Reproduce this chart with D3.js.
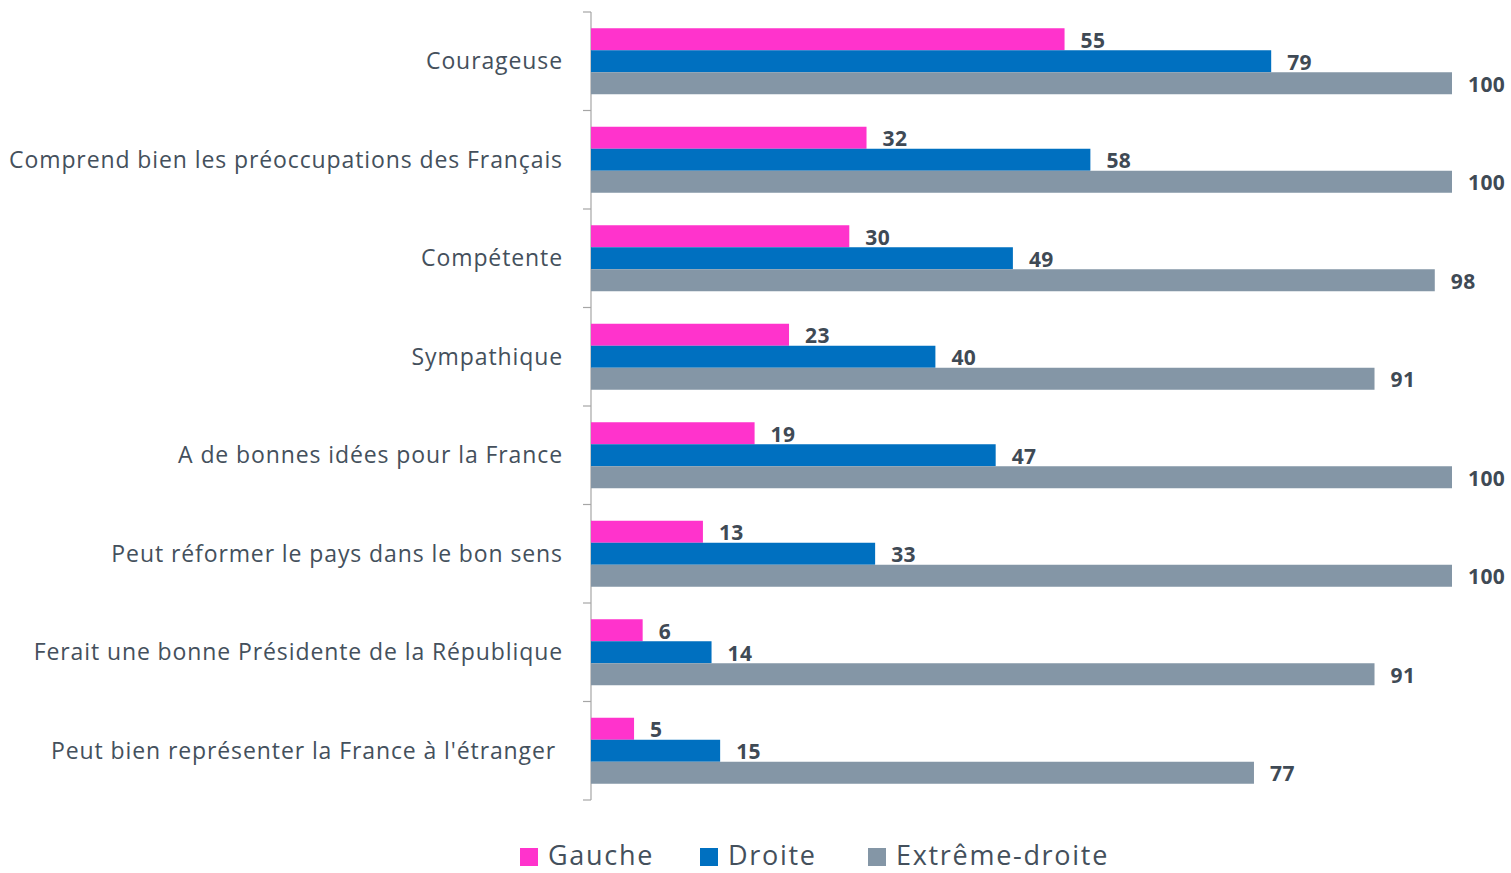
<!DOCTYPE html>
<html>
<head>
<meta charset="utf-8">
<script src="https://cdn.jsdelivr.net/npm/d3@7"></script>
<style>
  body { margin: 0; background: #fff; }
  svg text { font-family: "Open Sans", sans-serif; white-space: pre; }
</style>
</head>
<body>
<svg id="chart" width="1511" height="873"></svg>
<script>
"use strict";

// data
const categories = [
  "Courageuse",
  "Comprend bien les préoccupations des Français",
  "Compétente",
  "Sympathique",
  "A de bonnes idées pour la France",
  "Peut réformer le pays dans le bon sens",
  "Ferait une bonne Présidente de la République",
  "Peut bien représenter la France à l'étranger "
];
const seriesNames = [ "Gauche", "Droite", "Extrême-droite" ];
const gauche      = [ 55, 32, 30, 23, 19, 13, 6, 5 ];
const droite      = [ 79, 58, 49, 40, 47, 33, 14, 15 ];
const extDroite   = [ 100, 100, 98, 91, 100, 100, 91, 77 ];
const colors      = [ "#FF33CC", "#0070C0", "#8496A6" ];

const series = [ gauche, droite, extDroite ];

const margin = { top: 12, left: 591, bottom: 800 };
const svg = d3.select( "#chart" );

// scales
const x = d3.scaleLinear()
            .domain( [ 0, 100 ] )
            .range( [ margin.left, 1452 ] );
const y = d3.scaleBand()
            .domain( categories )
            .range( [ margin.top, margin.bottom ] );
const ySub = d3.scaleBand()
               .domain( d3.range( seriesNames.length ) )
               .range( [ 0, 66 ] );
const bandPad = ( y.bandwidth() - 66 ) / 2;

// axis line with ticks at category boundaries
svg.append( "line" )
   .attr( "x1", margin.left ).attr( "x2", margin.left )
   .attr( "y1", margin.top ).attr( "y2", margin.bottom )
   .attr( "stroke", "#A6A6A6" ).attr( "stroke-width", 1.2 );

const bounds = categories.map( (c) => y(c) ).concat( [ margin.bottom ] );
svg.selectAll( "line.tick" )
   .data( bounds )
   .enter().append( "line" )
     .attr( "class", "tick" )
     .attr( "x1", margin.left - 8 ).attr( "x2", margin.left )
     .attr( "y1", (d) => d ).attr( "y2", (d) => d )
     .attr( "stroke", "#A6A6A6" ).attr( "stroke-width", 1.2 );

// category labels
svg.selectAll( "text.cat" )
   .data( categories )
   .enter().append( "text" )
     .attr( "class", "cat" )
     .attr( "x", 563 )
     .attr( "y", (d) => y(d) + y.bandwidth() / 2 )
     .attr( "dy", "0.35em" )
     .attr( "text-anchor", "end" )
     .attr( "font-size", 23 )
     .attr( "letter-spacing", 0.9 )
     .attr( "fill", "#44505C" )
     .text( (d) => d );

// bars + value labels
series.forEach( (vals, si) => {
  const g = svg.append( "g" );
  g.selectAll( "rect" )
   .data( vals )
   .enter().append( "rect" )
     .attr( "x", x(0) )
     .attr( "y", (d, i) => y( categories[i] ) + bandPad + ySub(si) )
     .attr( "width", (d) => x(d) - x(0) )
     .attr( "height", ySub.bandwidth() )
     .attr( "fill", colors[si] );

  g.selectAll( "text" )
   .data( vals )
   .enter().append( "text" )
     .attr( "x", (d) => x(d) + 16 )
     .attr( "y", (d, i) => y( categories[i] ) + bandPad + ySub(si) + ySub.bandwidth() / 2 + 1 )
     .attr( "dy", "0.36em" )
     .attr( "font-size", 21 )
     .attr( "letter-spacing", 0.4 )
     .attr( "font-weight", "bold" )
     .attr( "fill", "#3F4A55" )
     .text( (d) => d );
});

// legend
const legendX = [ 520, 700, 868 ];
const legend = svg.selectAll( "g.legend" )
                  .data( seriesNames )
                  .enter().append( "g" )
                    .attr( "class", "legend" )
                    .attr( "transform", (d, i) => `translate( ${legendX[i]}, 848 )` );
legend.append( "rect" )
      .attr( "width", 18 ).attr( "height", 18 )
      .attr( "fill", (d, i) => colors[i] );
legend.append( "text" )
      .attr( "x", 28 ).attr( "y", 7 )
      .attr( "dy", "0.36em" )
      .attr( "font-size", 27 )
      .attr( "letter-spacing", 1.7 )
      .attr( "fill", "#44505C" )
      .text( (d) => d );
</script>
</body>
</html>
